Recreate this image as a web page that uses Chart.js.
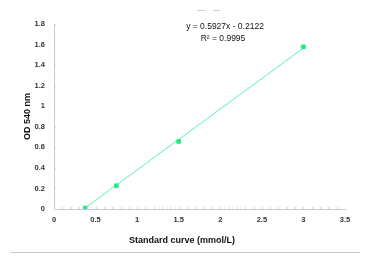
<!DOCTYPE html>
<html>
<head>
<meta charset="utf-8">
<script src="https://cdn.jsdelivr.net/npm/chart.js@4/dist/chart.umd.min.js"></script>
<style>
html,body{margin:0;padding:0;background:#fff;}
#wrap{width:380px;height:260px;position:relative;}
</style>
</head>
<body>
<div id="wrap"><canvas id="c" width="380" height="260"></canvas></div>
<script>
const concentrations = [0.375, 0.75, 1.5, 3.0];
const odValues = [0.01, 0.227, 0.657, 1.578];
const slope = 0.5927;
const intercept = -0.2122;
const rSquared = 0.9995;
const xTicks = [0, 0.5, 1, 1.5, 2, 2.5, 3, 3.5];
const yTicks = [0, 0.2, 0.4, 0.6, 0.8, 1, 1.2, 1.4, 1.6, 1.8];
const xTitle = 'Standard curve (mmol/L)';
const yTitle = 'OD 540 nm';

const points = concentrations.map((x, i) => ({x: x, y: odValues[i]}));
const xFirst = concentrations[0], xLast = concentrations[concentrations.length - 1];
const trend = [xFirst, xLast].map(x => ({x: x, y: slope * x + intercept}));
const FONT = '"Liberation Sans", Arial, sans-serif';

const decor = {
  id: 'decor',
  beforeDraw(chart) {
    const ctx = chart.ctx;
    ctx.save();
    ctx.fillStyle = '#fff';
    ctx.fillRect(0, 0, chart.width, chart.height);
    ctx.restore();
  },
  afterDraw(chart) {
    const ctx = chart.ctx;
    const a = chart.chartArea;
    const xs = chart.scales.x, ys = chart.scales.y;
    ctx.save();
    ctx.strokeStyle = '#d4d4d4';
    ctx.lineWidth = 1;
    for (let v = 0.1; v < 3.5; v += 0.1) {
      const px = Math.round(xs.getPixelForValue(v)) + 0.5;
      ctx.beginPath(); ctx.moveTo(px, a.bottom); ctx.lineTo(px, a.bottom - 2); ctx.stroke();
    }
    yTicks.forEach(v => {
      const py = Math.round(ys.getPixelForValue(v)) + 0.5;
      ctx.beginPath(); ctx.moveTo(a.left, py); ctx.lineTo(a.left + 2, py); ctx.stroke();
    });
    // equation text
    ctx.fillStyle = '#111';
    ctx.font = '8.5px ' + FONT;
    ctx.textAlign = 'center';
    ctx.textBaseline = 'middle';
    ctx.fillText('y = ' + slope.toFixed(4) + 'x - ' + Math.abs(intercept).toFixed(4), 225, 27);
    ctx.fillText('R² = ' + rSquared.toFixed(4), 223, 39);
    // x axis title
    ctx.font = 'bold 9px ' + FONT;
    ctx.fillText(xTitle, 182, 241);
    // top dashes
    ctx.strokeStyle = '#cfcfcf';
    ctx.beginPath(); ctx.moveTo(197, 10.5); ctx.lineTo(205, 10.5); ctx.stroke();
    ctx.beginPath(); ctx.moveTo(213, 10.5); ctx.lineTo(220, 10.5); ctx.stroke();
    // bottom separator
    ctx.strokeStyle = '#c8c8c8';
    ctx.beginPath(); ctx.moveTo(10, 252.5); ctx.lineTo(360, 252.5); ctx.stroke();
    ctx.restore();
  }
};

new Chart(document.getElementById('c'), {
  type: 'scatter',
  data: {
    datasets: [
      {
        label: 'Trend',
        data: trend,
        showLine: true,
        borderColor: '#5cf0b4',
        borderWidth: 1,
        pointRadius: 0,
        fill: false,
        order: 2
      },
      {
        label: 'OD',
        data: points,
        backgroundColor: '#1aee80',
        borderColor: '#1aee80',
        pointRadius: 2.5,
        pointStyle: 'rect',
        order: 1
      }
    ]
  },
  options: {
    responsive: false,
    animation: false,
    devicePixelRatio: 1,
    layout: {padding: {top: 24, right: 35, left: 0, bottom: 0}},
    plugins: {legend: {display: false}, tooltip: {enabled: false}},
    scales: {
      x: {
        type: 'linear',
        min: 0, max: 3.5,
        afterFit(s) { s.height = 51; },
        afterBuildTicks(s) { s.ticks = xTicks.map(v => ({value: v})); },
        grid: {display: true, drawOnChartArea: false, drawTicks: false},
        border: {display: true, color: '#c8c8c8'},
        ticks: {
          padding: 6,
          color: '#333',
          font: {family: FONT, size: 7.5, weight: 'bold'},
          callback: v => String(v),
          maxRotation: 0
        },
        title: {display: false, text: xTitle}
      },
      y: {
        type: 'linear',
        min: 0, max: 1.8,
        afterFit(s) { s.width = 54; },
        afterBuildTicks(s) { s.ticks = yTicks.map(v => ({value: v})); },
        grid: {display: true, drawOnChartArea: false, drawTicks: false},
        border: {display: true, color: '#c8c8c8'},
        ticks: {
          padding: 9,
          color: '#333',
          font: {family: FONT, size: 7.5, weight: 'bold'},
          callback: v => String(Math.round(v * 10) / 10)
        },
        title: {
          display: true,
          text: yTitle,
          color: '#111',
          padding: {top: 22, bottom: 0},
          font: {family: FONT, size: 9, weight: 'bold'}
        }
      }
    }
  },
  plugins: [decor]
});
</script>
</body>
</html>
